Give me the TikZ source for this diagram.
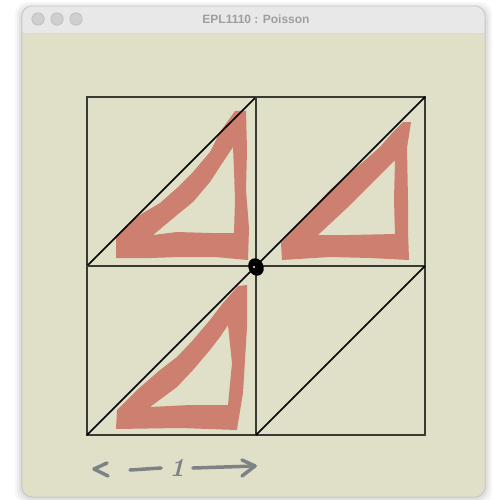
\documentclass[tikz,border=0pt]{standalone}
\usepackage{fontspec}
\newfontfamily\uifont{Liberation Sans}
\usepackage{xcolor}
\definecolor{PoissonBg}{RGB}{224,223,199}
\definecolor{TitleBar}{RGB}{232,232,232}
\definecolor{TitleText}{RGB}{158,158,158}
\definecolor{MeshLine}{RGB}{58,58,52}
\definecolor{InkRed}{RGB}{205,128,112}
\definecolor{InkGray}{RGB}{125,130,133}
\usepackage{tikz}
\usetikzlibrary{shapes.geometric, arrows.meta, positioning, calc}

\begin{document}
\begin{tikzpicture}[x=1pt, y=-1pt,
    ink/.style={fill=InkRed, even odd rule},
    dimline/.style={InkGray, line width=3.5pt, line cap=round, line join=round}]
    \useasboundingbox (0,0) rectangle (493,500);
    \foreach \k/\o in {7/0.03,5/0.04,3/0.05,1/0.07} {
        \fill[black, opacity=\o, rounded corners=12pt] (22-\k,6-\k+3) rectangle (485+\k,497+\k);
    }
    \fill[TitleBar, rounded corners=10pt] (22,6) rectangle (485,497);
    \fill[PoissonBg, rounded corners=10pt] (22,33) rectangle (485,497);
    \fill[PoissonBg] (22,33) rectangle (485,50);
    \draw[black!15, line width=0.8pt] (22,33.5) -- (485,33.5);
    \draw[black!22, line width=0.8pt, rounded corners=10pt] (22,6) rectangle (485,497);
    \foreach \x in {38,57,76} {
        \filldraw[fill=black!19, draw=black!27, line width=0.6pt] (\x,19) circle (6.2pt);
    }
    \node[font=\uifont\bfseries\fontsize{12}{14}\selectfont, text=TitleText] (title) at (256,19) {EPL1110 : Poisson};

    \fill[ink] (116,258) -- (116,236) -- (130,222) -- (143,213) -- (160,203) -- (177,188) -- (193,172)
        -- (210,152) -- (220,132) -- (230,118) -- (235,111) -- (246,111) -- (247,150) -- (246,190)
        -- (249,228) -- (248,260) -- (215,257) -- (180,257) -- (150,258) -- cycle
        (153,235) -- (177,232) -- (210,233) -- (234,233) -- (235,200) -- (234,170) -- (233,147)
        -- (223,162) -- (210,182) -- (193,202) -- (177,215) -- cycle;
    \fill[ink] (282,260) -- (281,243) -- (297,225) -- (313,208) -- (330,190) -- (347,175) -- (363,162)
        -- (380,147) -- (393,132) -- (403,122) -- (411,122) -- (407,148) -- (408,200) -- (408,230)
        -- (409,260) -- (370,258) -- (330,257) -- cycle
        (318,235) -- (350,235) -- (395,234) -- (394,200) -- (395,160) -- (383,172) -- (367,188)
        -- (347,208) -- cycle;
    \fill[ink] (116,429) -- (117,410) -- (137,390) -- (160,370) -- (177,357) -- (193,340) -- (210,320)
        -- (223,303) -- (238,286) -- (247,285) -- (247,327) -- (243,393) -- (238,423) -- (237,430)
        -- (180,428) -- cycle
        (150,407) -- (190,405) -- (228,405) -- (232,363) -- (228,325) -- (220,337) -- (210,350)
        -- (193,370) -- (177,387) -- cycle;

    \foreach \i in {0,1} {
        \foreach \j in {0,1} {
            \draw[MeshLine, line width=1.7pt] (87+169*\i,97+169*\j) rectangle (256+169*\i,266+169*\j);
            \draw[black, line width=1.5pt] (87+169*\i,266+169*\j) -- (256+169*\i,97+169*\j);
        }
    }
    \node[ellipse, fill=black, inner sep=0pt, minimum width=15pt, minimum height=18pt, rotate=25] (origin) at (256,267) {};
    \fill[PoissonBg!50!white] ([xshift=-2pt]origin.center) circle (1.1pt);

    \node[font=\fontsize{26}{26}\selectfont\bfseries\itshape, text=InkGray, inner sep=0pt] (unit) at (177,468) {1};
    \coordinate (tipL) at (94,469);
    \coordinate (tipR) at (255,466);
    \draw[dimline] ($(tipL)+(13,-6)$) -- (tipL) -- ($(tipL)+(14,7)$);
    \draw[dimline] ($(tipL)+(36,1)$) -- ([xshift=-8pt]unit.west);
    \draw[dimline] ([xshift=8pt]unit.east) -- (tipR);
    \draw[dimline] ($(tipR)+(-13,-6)$) -- (tipR) -- ($(tipR)+(-13,10)$);
\end{tikzpicture}
\end{document}
